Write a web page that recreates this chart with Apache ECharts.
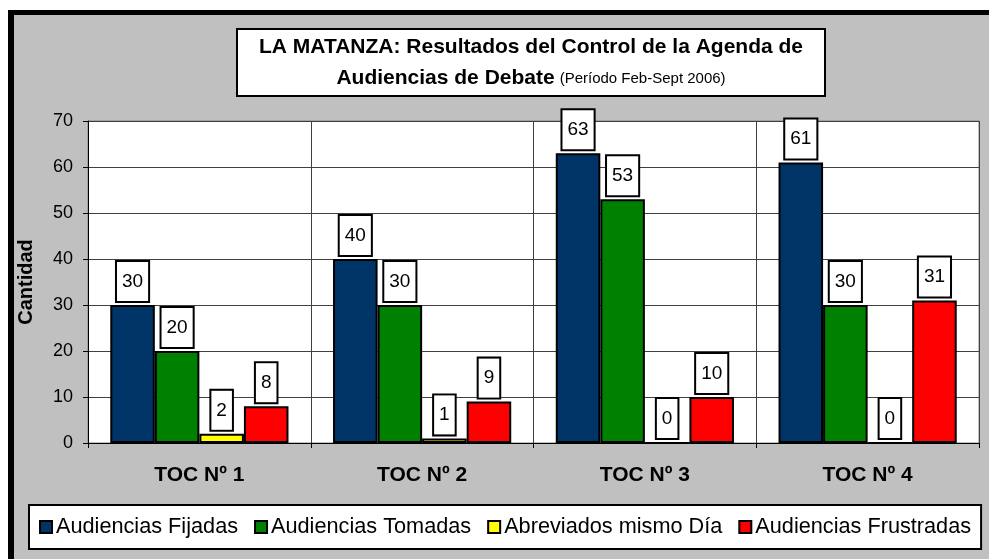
<!DOCTYPE html>
<html>
<head>
<meta charset="utf-8">
<script src="https://cdn.jsdelivr.net/npm/echarts@6/dist/echarts.min.js"></script>
<style>
html,body{margin:0;padding:0;background:#fff;}
#chart{width:989px;height:559px;}
</style>
</head>
<body>
<div id="chart"></div>
<script>
// ---- data ----
const categories = ['TOC Nº 1', 'TOC Nº 2', 'TOC Nº 3', 'TOC Nº 4'];
const seriesNames = ['Audiencias Fijadas', 'Audiencias Tomadas', 'Abreviados mismo Día', 'Audiencias Frustradas'];
const fijadas = [30, 40, 63, 61];
const tomadas = [20, 30, 53, 30];
const abreviados = [2, 1, 0, 0];
const frustradas = [8, 9, 10, 31];
const yMin = 0, yMax = 70, yStep = 10;

const FONT = '"Liberation Sans", Arial, sans-serif';
const colors = ['#003366', '#008000', '#FFFF00', '#FF0000'];
const values = [fijadas, tomadas, abreviados, frustradas];

const chart = echarts.init(document.getElementById('chart'), null, {renderer: 'canvas'});

const series = values.map((v, i) => ({
  name: seriesNames[i],
  type: 'bar',
  data: v,
  barGap: '0%',
  barCategoryGap: '20%',
  itemStyle: {color: colors[i], borderColor: '#000', borderWidth: 2},
  label: {
    show: true,
    position: 'top',
    distance: 4,
    color: '#000',
    fontSize: 19,
    fontFamily: FONT,
    backgroundColor: '#fff',
    borderColor: '#000',
    borderWidth: 2,
    padding: [10, 5, 10, 5]
  }
}));

const option = {
  animation: false,
  backgroundColor: '#fff',
  color: colors,
  graphic: [
    {type: 'rect', shape: {x: 8, y: 10, width: 1000, height: 600}, style: {fill: '#000'}, z: -10, silent: true},
    {type: 'rect', shape: {x: 14, y: 15, width: 1000, height: 600}, style: {fill: '#C0C0C0'}, z: -9, silent: true}
  ],
  title: {
    text: '{a|LA MATANZA: Resultados del Control de la Agenda de}\n{a|Audiencias de Debate} {b|(Período Feb-Sept 2006)}',
    left: 509,
    top: 29,
    textAlign: 'center',
    backgroundColor: '#fff',
    borderColor: '#000',
    borderWidth: 2,
    padding: [3, 22, 2, 22],
    textStyle: {
      lineHeight: 31,
      rich: {
        a: {fontSize: 21, fontWeight: 'bold', fontFamily: FONT, color: '#000', lineHeight: 31},
        b: {fontSize: 15, fontWeight: 'normal', fontFamily: FONT, color: '#000', lineHeight: 31}
      }
    }
  },
  legend: {
    data: seriesNames,
    left: 29,
    top: 505,
    orient: 'horizontal',
    backgroundColor: '#fff',
    borderColor: '#000',
    borderWidth: 2,
    padding: [11, 10, 11, 10],
    itemGap: 16,
    itemWidth: 12,
    itemHeight: 12,
    icon: 'rect',
    itemStyle: {borderColor: '#000', borderWidth: 2},
    textStyle: {fontSize: 21.7, fontFamily: FONT, color: '#000', padding: [0, 0, 0, -1]}
  },
  grid: {
    left: 88, right: 10, top: 121, bottom: 116,
    show: true, backgroundColor: '#fff', borderColor: '#808080', borderWidth: 1,
    containLabel: false
  },
  xAxis: {
    type: 'category',
    data: categories,
    axisLine: {show: true, lineStyle: {color: '#000', width: 1}},
    axisTick: {show: true, length: 5, alignWithLabel: false, lineStyle: {color: '#000'}},
    axisLabel: {margin: 22, fontSize: 21, fontWeight: 'bold', fontFamily: FONT, color: '#000'},
    splitLine: {show: true, lineStyle: {color: '#404040', width: 1}}
  },
  yAxis: {
    type: 'value',
    min: yMin, max: yMax, interval: yStep,
    name: 'Cantidad',
    nameLocation: 'middle',
    nameRotate: 90,
    nameGap: 52,
    nameTextStyle: {fontSize: 20, fontWeight: 'bold', fontFamily: FONT, color: '#000'},
    axisLine: {show: true, lineStyle: {color: '#000', width: 1}},
    axisTick: {show: true, length: 5, lineStyle: {color: '#000'}},
    axisLabel: {margin: 15, fontSize: 18, fontFamily: FONT, color: '#000'},
    splitLine: {show: true, lineStyle: {color: '#404040', width: 1}}
  },
  series: series
};

chart.setOption(option);
</script>
</body>
</html>
